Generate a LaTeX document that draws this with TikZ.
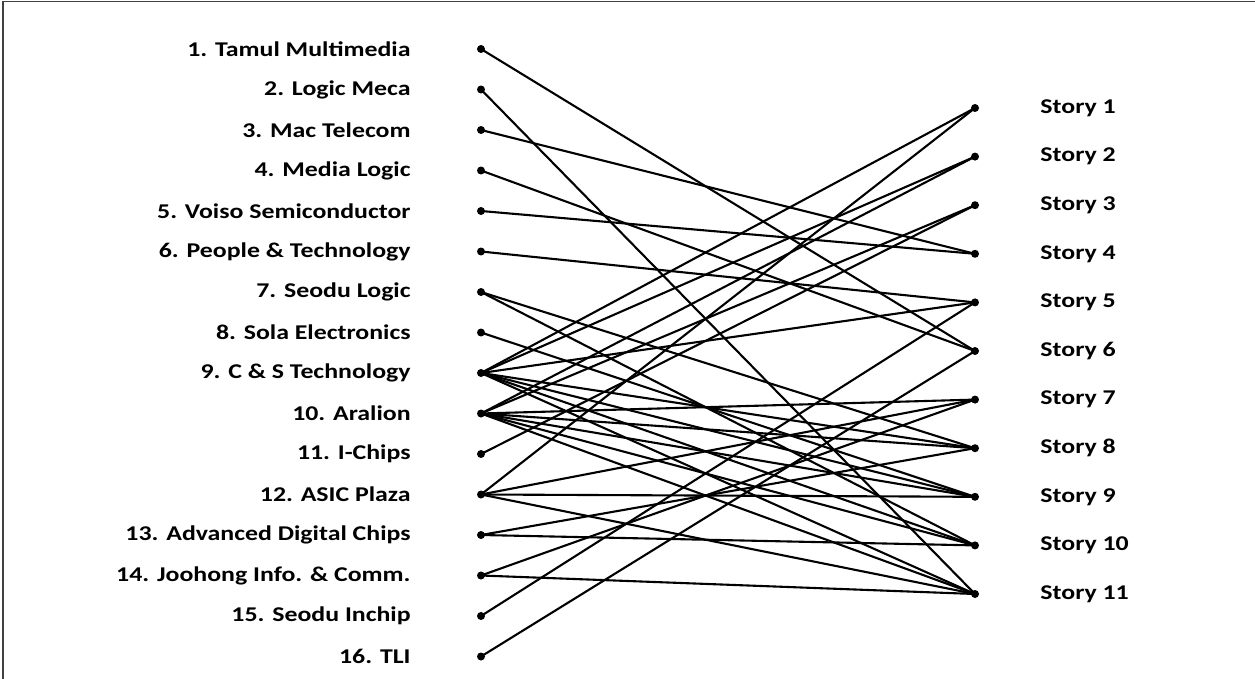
\documentclass[tikz,border=0pt]{standalone}
\usepackage{fontspec}
\setmainfont{Carlito}
\usetikzlibrary{positioning}

\tikzset{
  dot/.style={circle,fill=black,inner sep=0pt,minimum size=8pt},
  firm/.style={inner sep=0pt,font=\bfseries\fontsize{21}{24}\selectfont},
  story/.style={inner sep=0pt,font=\bfseries\fontsize{21}{24}\selectfont},
  tie/.style={line width=2.1pt}
}
\newcommand{\wide}[1]{\scalebox{1.23}[1]{#1}}

\begin{document}
\begin{tikzpicture}[x=1pt,y=-1pt]
        \useasboundingbox (0,0) rectangle (1255,679);
        % Cornice
        \draw[line width=1.5pt,black!75] (3,679) -- (3,1.5) -- (1255,1.5);
        % Aziende
        \foreach \i/\name in {1/Tamul Multimedia,2/Logic Meca,3/Mac Telecom,
            4/Media Logic,5/Voiso Semiconductor,6/People \& Technology,
            7/Seodu Logic,8/Sola Electronics,9/C \& S Technology,10/Aralion,
            11/I-Chips,12/ASIC Plaza,13/Advanced Digital Chips,
            14/Joohong Info. \& Comm.,15/Seodu Inchip,16/TLI}
        {
            \node[dot] (c\i) at (481,{49+(\i-1)*40.5}) {};
            \node[firm,left=66pt of c\i] (f\i) {\wide{\i. \name}};
        }
        % Storie
        \foreach \j in {1,...,11}
        {
            \node[dot] (s\j) at (975,{108+(\j-1)*48.6}) {};
            \node[story,right=61pt of s\j] (t\j) {\wide{Story \j}};
        }
        % Collegamenti
        \foreach \a/\b in {1/6,2/11,3/4,4/6,5/4,6/5,7/8,7/10,8/9,
            9/1,9/2,9/5,9/8,9/9,9/10,9/11,
            10/2,10/3,10/7,10/8,10/9,10/10,10/11,
            11/3,12/1,12/7,12/9,12/11,13/8,13/10,14/7,14/11,15/5,16/6}
            \draw[tie] (c\a.center) -- (s\b.center);
    \end{tikzpicture}
\end{document}
